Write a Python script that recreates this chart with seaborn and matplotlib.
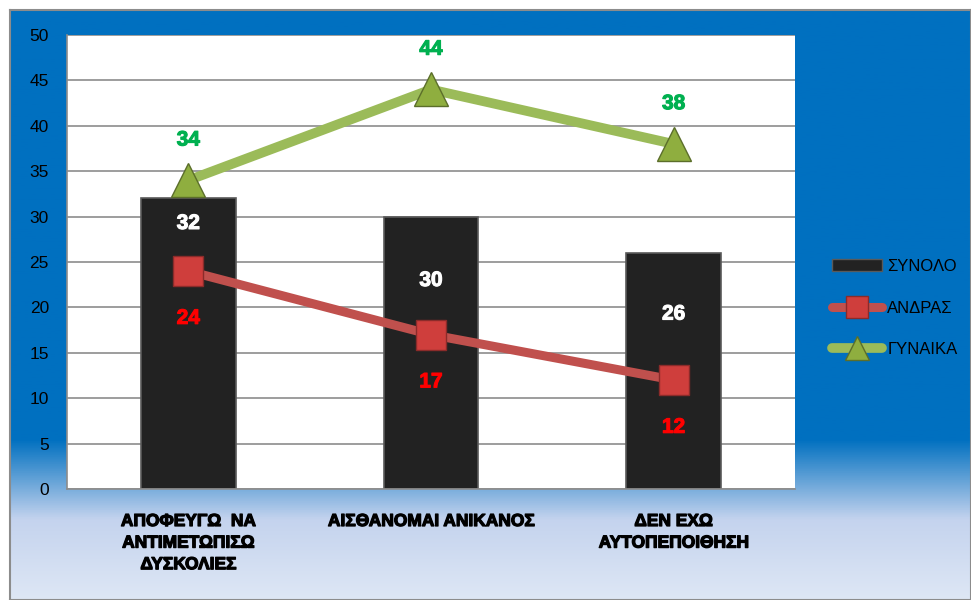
import numpy as np
import pandas as pd
import matplotlib
matplotlib.use("Agg")
import matplotlib.pyplot as plt
import matplotlib.patheffects as pe
import seaborn as sns
from matplotlib.lines import Line2D
from matplotlib.patches import Patch
from matplotlib.colors import LinearSegmentedColormap

# data
categories = ["ΑΠΟΦΕΥΓΩ  ΝΑ\nΑΝΤΙΜΕΤΩΠΙΣΩ\nΔΥΣΚΟΛΙΕΣ",
              "ΑΙΣΘΑΝΟΜΑΙ ΑΝΙΚΑΝΟΣ",
              "ΔΕΝ ΕΧΩ\nΑΥΤΟΠΕΠΟΙΘΗΣΗ"]
total = [32, 30, 26]
men = [24, 17, 12]
women = [34, 44, 38]
series_names = ["ΣΥΝΟΛΟ", "ΑΝΔΡΑΣ", "ΓΥΝΑΙΚΑ"]
yticks = [0, 5, 10, 15, 20, 25, 30, 35, 40, 45, 50]

df = pd.DataFrame({"cat": categories, "total": total, "men": men, "women": women})

sns.set_style("white")
plt.rcParams['font.family'] = ['Liberation Sans', 'DejaVu Sans']
plt.rcParams['text.color'] = 'black'
plt.rcParams['xtick.color'] = 'black'
plt.rcParams['ytick.color'] = 'black'

fig = plt.figure(figsize=(9.71, 6.0), dpi=100)

# blue gradient background
bg = fig.add_axes([10 / 971, 0, 961 / 971, 590 / 600], zorder=-5)
cmap = LinearSegmentedColormap.from_list(
    "bg", [(0, "#DEE7F5"), (80 / 590, "#C4D3EE"), (160 / 590, "#0070C0"), (1, "#0070C0")])
grad = np.linspace(0, 1, 256).reshape(-1, 1)
bg.imshow(grad, aspect="auto", cmap=cmap, origin="lower", extent=[0, 1, 0, 1])
bg.set_xticks([])
bg.set_yticks([])
for s in bg.spines.values():
    s.set_color("#8c8c8c")
    s.set_linewidth(1.5)

ax = fig.add_axes([67 / 971, 111 / 600, 728 / 971, 454 / 600])
ax.set_facecolor("white")

pos = np.arange(len(categories))

sns.barplot(data=df, x="cat", y="total", ax=ax, color="#222222", width=0.39,
            edgecolor="#5a5a5a", linewidth=1.2, saturation=1, zorder=2)

sns.lineplot(x=pos, y=men, ax=ax, color="#C0504D", linewidth=6.5, marker="s",
             markersize=22, markerfacecolor="#CF3E3C", markeredgecolor="#8B2B2A",
             markeredgewidth=1, zorder=4)
sns.lineplot(x=pos, y=women, ax=ax, color="#9BBB59", linewidth=7, marker="^",
             markersize=25, markerfacecolor="#8FAE3F", markeredgecolor="#5B6E2A",
             markeredgewidth=1, zorder=4)

# data labels
def label(i, v, dy, color):
    ax.annotate(str(v), (pos[i], v), xytext=(0, dy), textcoords="offset points",
                ha="center", va="center", color=color, fontsize=15, fontweight="bold",
                zorder=6, path_effects=[pe.withStroke(linewidth=0.8, foreground=color)])

bar_offsets = [-18, -46, -44]
for i, v in enumerate(total):
    label(i, v, bar_offsets[i], "white")
for i, v in enumerate(men):
    label(i, v, -34, "#FF0000")
for i, v in enumerate(women):
    label(i, v, 29, "#00B050")

ax.set_xlim(-0.5, 2.5)
ax.set_ylim(0, 50)
ax.set_yticks(yticks)
ax.set_yticklabels([str(t) for t in yticks], fontsize=12.5, color="black")
ax.yaxis.grid(True, color="#8c8c8c", linewidth=1.2, zorder=0)
ax.set_axisbelow(True)
ax.tick_params(axis="y", length=4, width=1.2, color="#8c8c8c", pad=9)
ax.set_xticks(pos)
ax.set_xticklabels(categories, linespacing=1.55, va="top")
for lbl in ax.get_xticklabels():
    lbl.set_fontweight("bold")
    lbl.set_fontsize(12.5)
    lbl.set_path_effects([pe.withStroke(linewidth=0.9, foreground="black")])
ax.set_xticks([-0.5, 0.5, 1.5, 2.5], minor=True)
ax.tick_params(axis="x", which="major", length=0, pad=18)
ax.tick_params(axis="x", which="minor", length=5, width=1.2, color="#8c8c8c")
ax.set_xlabel("")
ax.set_ylabel("")
for side in ["top", "right"]:
    ax.spines[side].set_visible(False)
for side in ["left", "bottom"]:
    ax.spines[side].set_color("#8c8c8c")
    ax.spines[side].set_linewidth(1.2)

handles = [
    Patch(facecolor="#222222", edgecolor="#5a5a5a"),
    Line2D([], [], color="#C0504D", linewidth=6.5, marker="s", markersize=16,
           markerfacecolor="#CF3E3C", markeredgecolor="#8B2B2A"),
    Line2D([], [], color="#9BBB59", linewidth=7, marker="^", markersize=17,
           markerfacecolor="#8FAE3F", markeredgecolor="#5B6E2A"),
]
fig.legend(handles, series_names, loc="center left", bbox_to_anchor=(824 / 971, 1 - 308 / 600),
           frameon=False, fontsize=12, labelspacing=1.6, handlelength=3.0,
           handletextpad=0.3, borderpad=0)

fig.savefig("out.png", dpi=100)
